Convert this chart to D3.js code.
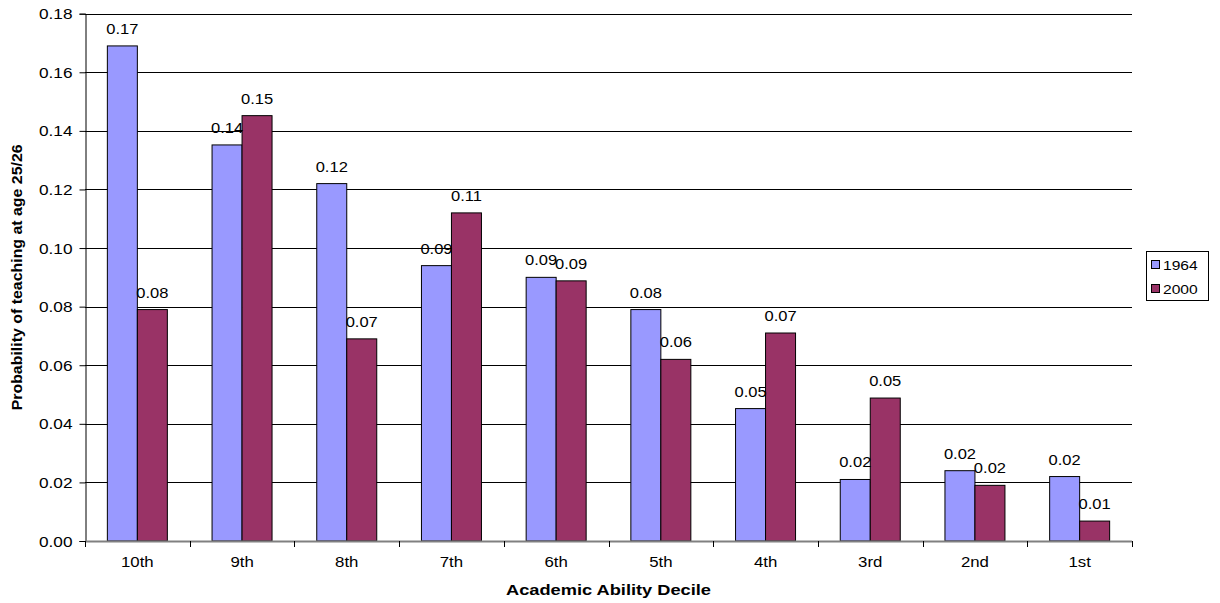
<!DOCTYPE html>
<html>
<head>
<meta charset="utf-8">
<script src="https://cdn.jsdelivr.net/npm/d3@7"></script>
<style>
  html, body { margin: 0; padding: 0; background: #fff; }
  svg { display: block; }
  text { font-family: "Liberation Sans", Arial, sans-serif; fill: #000; }
</style>
</head>
<body>
<svg id="chart" width="1220" height="603"></svg>
<script>
// Probability of teaching at age 25/26, by academic ability decile
const deciles = ["10th", "9th", "8th", "7th", "6th", "5th", "4th", "3rd", "2nd", "1st"];
const cohorts = ["1964", "2000"];
const values1964 = [0.169, 0.1352, 0.122, 0.094, 0.090, 0.079, 0.0452, 0.021, 0.024, 0.022];
const values2000 = [0.079, 0.1452, 0.069, 0.112, 0.0888, 0.062, 0.071, 0.0488, 0.019, 0.0068];
const yTicks = [0, 0.02, 0.04, 0.06, 0.08, 0.10, 0.12, 0.14, 0.16, 0.18];
const colors = ["#9999ff", "#993366"];

const svg = d3.select("#chart");
const plot = { left: 85, right: 1132, top: 13.7, bottom: 541 };
const fmt = d3.format(".2f");

// widen glyphs along the text direction
function stretch(sel, k) {
  sel.each(function () {
    const len = this.getComputedTextLength();
    d3.select(this).attr("textLength", len * k).attr("lengthAdjust", "spacingAndGlyphs");
  });
}

const x = d3.scaleBand().domain(deciles).range([plot.left, plot.right])
  .paddingInner(0.427).paddingOuter(0.2135);
const xSub = d3.scaleBand().domain(cohorts).range([0, x.bandwidth()]);
const y = d3.scaleLinear().domain([0, 0.18]).range([plot.bottom, plot.top]);

// gridlines
svg.append("g")
  .selectAll("line")
  .data(yTicks.filter(d => d > 0))
  .join("line")
  .attr("x1", plot.left).attr("x2", plot.right)
  .attr("y1", d => Math.round(y(d)) + 0.5).attr("y2", d => Math.round(y(d)) + 0.5)
  .attr("stroke", "#000").attr("stroke-width", 1);

// bars
const rows = deciles.map((d, i) => ({ decile: d, vals: [values1964[i], values2000[i]] }));
const groups = svg.append("g").selectAll("g")
  .data(rows).join("g")
  .attr("transform", d => `translate(${x(d.decile)},0)`);

groups.selectAll("rect")
  .data(d => d.vals.map((v, j) => ({ cohort: cohorts[j], v, j })))
  .join("rect")
  .attr("x", d => xSub(d.cohort))
  .attr("y", d => y(d.v))
  .attr("width", xSub.bandwidth())
  .attr("height", d => y(0) - y(d.v))
  .attr("fill", d => colors[d.j])
  .attr("stroke", "#000").attr("stroke-width", 1);

// value labels
const labels = groups.selectAll("text")
  .data(d => d.vals.map((v, j) => ({ cohort: cohorts[j], v, j })))
  .join("text")
  .attr("x", d => xSub(d.cohort) + xSub.bandwidth() / 2)
  .attr("y", d => y(d.v) - 12)
  .attr("text-anchor", "middle")
  .attr("font-size", 14)
  .text(d => fmt(d.v));
stretch(labels, 1.18);

// y axis
const yAxis = svg.append("g")
  .attr("transform", `translate(${plot.left + 0.5},0)`)
  .call(d3.axisLeft(y).tickValues(yTicks).tickSize(6).tickPadding(7).tickFormat(fmt));
yAxis.select(".domain").attr("stroke", "#000");
yAxis.selectAll(".tick line").attr("stroke", "#000");
yAxis.selectAll("text").attr("font-size", 14).attr("font-family", null).attr("dy", "0.36em");
stretch(yAxis.selectAll("text"), 1.23);

// x axis: labels at category centres, ticks on category boundaries
const xAxis = svg.append("g")
  .attr("transform", `translate(0,${plot.bottom})`)
  .call(d3.axisBottom(x).tickSize(0).tickPadding(16));
xAxis.select(".domain").remove();
xAxis.selectAll("text").attr("font-size", 14).attr("font-family", null);
stretch(xAxis.selectAll("text"), 1.2);

svg.append("line")
  .attr("x1", plot.left).attr("x2", plot.right)
  .attr("y1", plot.bottom + 0.5).attr("y2", plot.bottom + 0.5)
  .attr("stroke", "#808080").attr("stroke-width", 2);
svg.append("g").selectAll("line")
  .data(d3.range(deciles.length + 1))
  .join("line")
  .attr("x1", i => Math.round(plot.left + i * x.step()) + 0.5)
  .attr("x2", i => Math.round(plot.left + i * x.step()) + 0.5)
  .attr("y1", plot.bottom).attr("y2", plot.bottom + 6)
  .attr("stroke", "#000").attr("stroke-width", 1);

// axis titles
svg.append("text")
  .attr("x", (plot.left + plot.right) / 2).attr("y", 595)
  .attr("text-anchor", "middle").attr("font-size", 14).attr("font-weight", "bold")
  .text("Academic Ability Decile")
  .attr("textLength", 205).attr("lengthAdjust", "spacingAndGlyphs");

svg.append("text")
  .attr("transform", `translate(22,${(plot.top + plot.bottom) / 2}) rotate(-90)`)
  .attr("text-anchor", "middle").attr("font-size", 14).attr("font-weight", "bold")
  .text("Probability of teaching at age 25/26")
  .attr("textLength", 266).attr("lengthAdjust", "spacingAndGlyphs");

// legend
const legend = svg.append("g").attr("transform", "translate(1146,251)");
legend.append("rect")
  .attr("x", 0.5).attr("y", 0.5).attr("width", 62).attr("height", 49)
  .attr("fill", "#fff").attr("stroke", "#000").attr("stroke-width", 1);
const items = legend.selectAll("g.item")
  .data(cohorts).join("g")
  .attr("class", "item")
  .attr("transform", (d, i) => `translate(0,${13 + i * 24})`);
items.append("rect")
  .attr("x", 5.5).attr("y", -3.5).attr("width", 8).attr("height", 8)
  .attr("fill", (d, i) => colors[i]).attr("stroke", "#000").attr("stroke-width", 1);
const legText = items.append("text")
  .attr("x", 17).attr("y", 5.5)
  .attr("font-size", 13)
  .text(d => d);
stretch(legText, 1.2);
</script>
</body>
</html>
